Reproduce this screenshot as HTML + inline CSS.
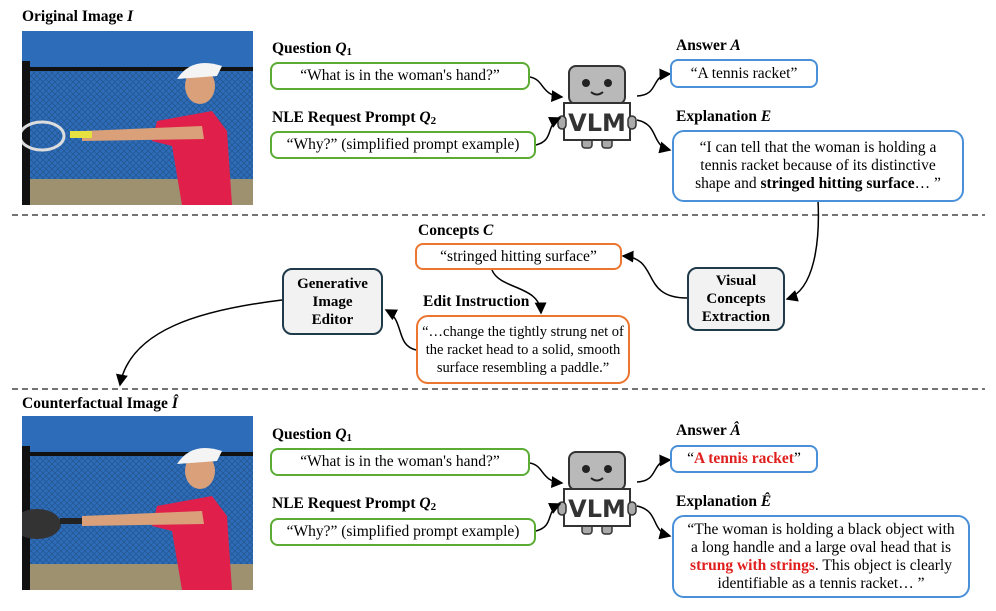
<!DOCTYPE html>
<html><head><meta charset="utf-8"><style>
body{margin:0;background:#fff;}
#c{position:relative;width:996px;height:611px;overflow:hidden;font-family:"Liberation Serif",serif;color:#000;}
.t{position:absolute;font-size:15.5px;font-weight:bold;white-space:nowrap;}
.t sub{font-size:11px;vertical-align:-2px;}
.b{position:absolute;box-sizing:border-box;border-radius:8px;font-size:15.5px;display:flex;align-items:center;justify-content:center;text-align:center;line-height:18px;background:#fff;white-space:nowrap;}
.b>div{display:block;}
.g{border:2.5px solid #5aac35;}
.bl{border:2.5px solid #4a90d9;}
.o{border:2.5px solid #ec7530;}
.gr{border:2px solid #1f3a4a;background:#f2f2f2;font-weight:bold;font-size:15px;}
.red{color:#e0201e;font-weight:bold;}
.ph{position:absolute;width:231px;height:174px;overflow:hidden;background:#1f5aa0;}
</style></head><body><div id="c">
<svg width="996" height="611" style="position:absolute;left:0;top:0">
<defs>
<marker id="a" markerWidth="8" markerHeight="8" refX="7" refY="4" orient="auto"><path d="M0,0 L8,4 L0,8 z" fill="#000"/></marker>
<pattern id="m" width="6" height="6" patternUnits="userSpaceOnUse"><path d="M0,0 L6,6 M6,0 L0,6" stroke="#24538c" stroke-width="0.7"/></pattern>
<g id="robot">
<rect x="-28" y="0" width="56" height="38" rx="7" fill="#b9b9b9" stroke="#333" stroke-width="2"/>
<circle cx="-11" cy="17" r="4" fill="#222"/><circle cx="11" cy="17" r="4" fill="#222"/>
<path d="M-6,26 Q0,31 6,26" stroke="#222" stroke-width="2" fill="none"/>
<rect x="-15" y="72" width="10" height="10" rx="3" fill="#aaa" stroke="#333" stroke-width="1.5"/>
<rect x="5" y="72" width="10" height="10" rx="3" fill="#aaa" stroke="#333" stroke-width="1.5"/>
<rect x="-33" y="37" width="66" height="37" fill="#fff" stroke="#333" stroke-width="2"/>
<rect x="-39" y="50" width="8" height="13" rx="4" fill="#aaa" stroke="#333" stroke-width="1.5"/>
<rect x="31" y="50" width="8" height="13" rx="4" fill="#aaa" stroke="#333" stroke-width="1.5"/>
<text x="0" y="65" text-anchor="middle" font-family="DejaVu Sans" font-weight="bold" font-size="24" fill="#333">VLM</text>
</g>
</defs>
<line x1="12" y1="215" x2="985" y2="215" stroke="#222" stroke-width="1.3" stroke-dasharray="6,4"/>
<line x1="12" y1="389" x2="985" y2="389" stroke="#222" stroke-width="1.3" stroke-dasharray="6,4"/>
<use href="#robot" x="597" y="66"/>
<use href="#robot" x="597" y="452"/>
<g stroke="#000" stroke-width="1.5" fill="none" marker-end="url(#a)">
<path d="M530,77 C545,80 540,95 562,97"/>
<path d="M536,145 C555,140 545,125 560,118"/>
<path d="M637,96 C660,95 650,75 670,74"/>
<path d="M637,120 C660,125 650,145 670,150"/>
<path d="M818,200 C820,240 815,290 787,299"/>
<path d="M687,298 C640,298 660,258 623,256"/>
<path d="M492,270 C500,290 540,285 541,313"/>
<path d="M416,350 C395,345 405,320 386,310"/>
<path d="M282,300 C200,310 130,330 120,385"/>
<path d="M530,463 C545,466 540,481 562,483"/>
<path d="M536,531 C555,526 545,511 560,504"/>
<path d="M637,482 C660,481 650,461 670,460"/>
<path d="M637,506 C660,511 650,531 670,536"/>
</g>
</svg>

<div class="t" style="left:22px;top:8px">Original Image <i>I</i></div>
<div class="ph" style="left:22px;top:31px"><svg width="231" height="174" style="position:absolute;left:0;top:0"><rect y="0" width="231" height="174" fill="#2d6cb8"/><rect y="38" width="231" height="110" fill="url(#m)"/><rect y="148" width="231" height="26" fill="#9e9170"/><rect x="0" y="30" width="8" height="144" fill="#111"/><rect y="36" width="231" height="4" fill="#111"/><path d="M135,90 L190,80 L205,100 L210,174 L160,174 L150,115 L130,110 Z" fill="#e0204a"/><ellipse cx="178" cy="55" rx="15" ry="18" fill="#d9a07a"/><path d="M155,48 Q170,25 200,35 L195,45 Z" fill="#f4f4f4"/><path d="M60,100 L180,95 L182,108 L60,110 Z" fill="#d9a07a"/><ellipse cx="20" cy="105" rx="22" ry="14" fill="none" stroke="#ddd" stroke-width="3"/><rect x="48" y="100" width="22" height="7" fill="#e6e040"/></svg></div>

<div class="t" style="left:272px;top:40px">Question <i>Q</i><sub>1</sub></div>
<div class="b g" style="left:270px;top:62px;width:260px;height:28px"><div>“What is in the woman's hand?”</div></div>
<div class="t" style="left:272px;top:109px">NLE Request Prompt <i>Q</i><sub>2</sub></div>
<div class="b g" style="left:270px;top:131px;width:266px;height:28px"><div>“Why?” (simplified prompt example)</div></div>
<div class="t" style="left:676px;top:37px">Answer <i>A</i></div>
<div class="b bl" style="left:670px;top:59px;width:148px;height:29px"><div>“A tennis racket”</div></div>
<div class="t" style="left:676px;top:108px">Explanation <i>E</i></div>
<div class="b bl" style="left:672px;top:130px;width:292px;height:72px;border-radius:12px"><div>“I can tell that the woman is holding a<br>tennis racket because of its distinctive<br>shape and <b>stringed hitting surface</b>… ”</div></div>

<div class="t" style="left:418px;top:222px">Concepts <i>C</i></div>
<div class="b o" style="left:415px;top:243px;width:207px;height:27px"><div>“stringed hitting surface”</div></div>
<div class="b gr" style="left:687px;top:267px;width:98px;height:64px;border-radius:10px"><div>Visual<br>Concepts<br>Extraction</div></div>
<div class="t" style="left:423px;top:293px">Edit Instruction</div>
<div class="b o" style="left:416px;top:315px;width:214px;height:69px;border-radius:12px;font-size:14.5px"><div>“…change the tightly strung net of<br>the racket head to a solid, smooth<br>surface resembling a paddle.”</div></div>
<div class="b gr" style="left:282px;top:268px;width:101px;height:67px;border-radius:10px"><div>Generative<br>Image<br>Editor</div></div>

<div class="t" style="left:22px;top:395px">Counterfactual Image <i>Î</i></div>
<div class="ph" style="left:22px;top:416px"><svg width="231" height="174" style="position:absolute;left:0;top:0"><rect y="0" width="231" height="174" fill="#2d6cb8"/><rect y="38" width="231" height="110" fill="url(#m)"/><rect y="148" width="231" height="26" fill="#9e9170"/><rect x="0" y="30" width="8" height="144" fill="#111"/><rect y="36" width="231" height="4" fill="#111"/><path d="M135,90 L190,80 L205,100 L210,174 L160,174 L150,115 L130,110 Z" fill="#e0204a"/><ellipse cx="178" cy="55" rx="15" ry="18" fill="#d9a07a"/><path d="M155,48 Q170,25 200,35 L195,45 Z" fill="#f4f4f4"/><path d="M60,100 L180,95 L182,108 L60,110 Z" fill="#d9a07a"/><ellipse cx="15" cy="108" rx="24" ry="15" fill="#333"/><rect x="38" y="102" width="22" height="6" fill="#222"/></svg></div>

<div class="t" style="left:272px;top:426px">Question <i>Q</i><sub>1</sub></div>
<div class="b g" style="left:270px;top:448px;width:260px;height:28px"><div>“What is in the woman's hand?”</div></div>
<div class="t" style="left:272px;top:495px">NLE Request Prompt <i>Q</i><sub>2</sub></div>
<div class="b g" style="left:270px;top:518px;width:266px;height:28px"><div>“Why?” (simplified prompt example)</div></div>
<div class="t" style="left:676px;top:422px">Answer <i>Â</i></div>
<div class="b bl" style="left:670px;top:445px;width:148px;height:28px"><div>“<span class="red">A tennis racket</span>”</div></div>
<div class="t" style="left:676px;top:493px">Explanation <i>Ê</i></div>
<div class="b bl" style="left:672px;top:515px;width:298px;height:83px;border-radius:12px"><div>“The woman is holding a black object with<br>a long handle and a large oval head that is<br><span class="red">strung with strings</span>. This object is clearly<br>identifiable as a tennis racket… ”</div></div>
</div></body></html>
